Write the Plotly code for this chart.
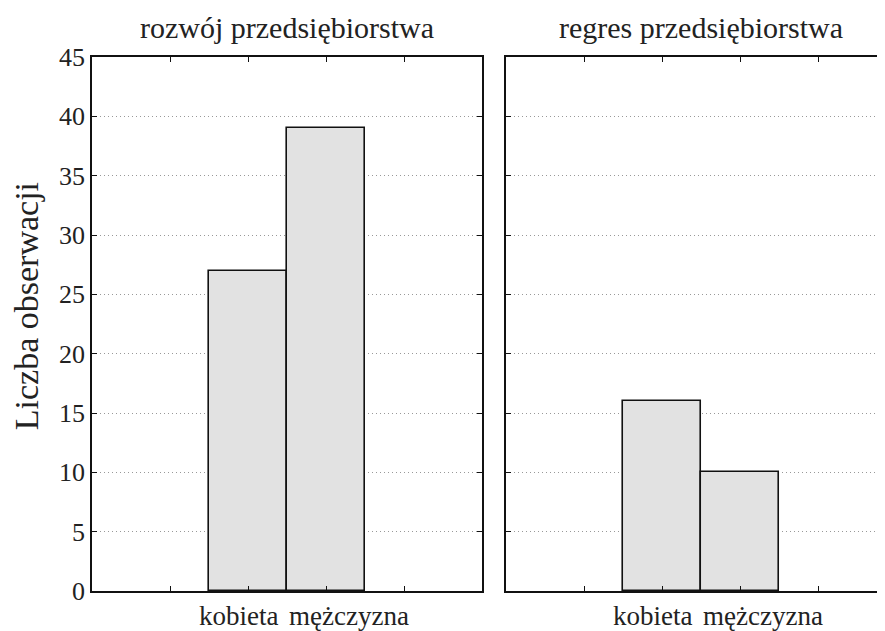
import plotly.graph_objects as go

categories = ["kobieta", "mężczyzna"]
panel_titles = ["rozwój przedsiębiorstwa", "regres przedsiębiorstwa"]
rozwoj_values = [27, 39]
regres_values = [16, 10]
y_ticks = [0, 5, 10, 15, 20, 25, 30, 35, 40, 45]
x_tick_positions = [1, 2, 3, 4]
y_title = "Liczba obserwacji"

FONT = "Times New Roman, Liberation Serif, DejaVu Serif, serif"
TXT = "#222222"
bar_x = [i + 2 for i in range(len(categories))]
label_shift = [-10, 23]

fig = go.Figure()
bar_style = dict(marker=dict(color="#e2e2e2", line=dict(color="#111111", width=1.6)),
                 width=1.0, showlegend=False, hoverinfo="skip")
fig.add_trace(go.Bar(x=bar_x, y=rozwoj_values, xaxis="x", yaxis="y", **bar_style))
fig.add_trace(go.Bar(x=bar_x, y=regres_values, xaxis="x2", yaxis="y2", **bar_style))

ax_common = dict(showline=True, linecolor="#111111", linewidth=1.6,
                 ticks="inside", ticklen=5, tickwidth=1.3, tickcolor="#111111",
                 zeroline=False)
xaxis_common = dict(ax_common, tickvals=x_tick_positions, showticklabels=False,
                    showgrid=False)
yaxis_common = dict(ax_common, range=[0, 45], tickvals=y_ticks,
                    showgrid=True, gridcolor="#999999", griddash="1px,3px", gridwidth=1,
                    tickfont=dict(family=FONT, size=26, color=TXT))

annotations = []
for xr, title in zip(["x", "x2"], panel_titles):
    annotations.append(dict(text=title, xref=xr, yref="paper", x=2.5, y=1, yanchor="bottom",
                            yshift=11, showarrow=False, font=dict(family=FONT, size=30, color=TXT)))
    for xv, cat, sh in zip(bar_x, categories, label_shift):
        annotations.append(dict(text=cat, xref=xr, yref="paper", x=xv, y=0, yanchor="top",
                                xshift=sh, yshift=-8, showarrow=False,
                                font=dict(family=FONT, size=27, color=TXT)))
annotations.append(dict(text=y_title, xref="paper", yref="y", x=0, y=24.0, xshift=-66,
                        xanchor="center", yanchor="middle",
                        textangle=-90, showarrow=False,
                        font=dict(family=FONT, size=34, color=TXT)))

fig.update_layout(
    width=877, height=623,
    margin=dict(l=84, r=0, t=49, b=40),
    paper_bgcolor="white", plot_bgcolor="white",
    bargap=0,
    xaxis=dict(xaxis_common, domain=[0, 0.4918], range=[0, 5], anchor="y", mirror="ticks"),
    yaxis=dict(yaxis_common, domain=[0, 1], anchor="x", mirror="ticks"),
    xaxis2=dict(xaxis_common, domain=[0.5221, 1], range=[0, 4.859], anchor="y2", mirror="ticks"),
    yaxis2=dict(yaxis_common, domain=[0, 1], anchor="x2", mirror=False, showticklabels=False),
    annotations=annotations,
)

fig.write_html("out.html")
